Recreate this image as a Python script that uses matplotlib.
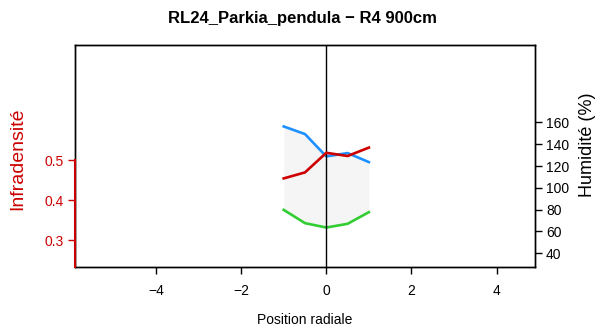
import matplotlib
matplotlib.use("Agg")
import matplotlib.pyplot as plt

plt.rcParams['font.family'] = ['Liberation Sans', 'DejaVu Sans']

positions = [-1.0, -0.5, 0.0, 0.5, 1.0]
infradensite = [0.454, 0.469, 0.518, 0.510, 0.531]
humidite_max = [156.3, 149.3, 128.8, 131.9, 123.6]
humidite_min = [79.8, 67.6, 63.6, 67.0, 77.7]
x_ticks = [-4, -2, 0, 2, 4]
left_ticks = [0.3, 0.4, 0.5]
right_ticks = [40, 60, 80, 100, 120, 140, 160]

W, H = 605, 336
fig = plt.figure(figsize=(W/100, H/100), dpi=100)
L, R, T, B = 75, 535, 45, 267
ax = fig.add_axes([L/W, 1-B/H, (R-L)/W, (B-T)/H])
ax.set_xlim(-5.9, 4.9)
ax.set_ylim(0.2325, 0.7875)
ax2 = ax.twinx()
ax2.set_ylim(27.4, 231)

red = '#cc0000'
ax2.fill_between(positions, humidite_min, humidite_max, color='#f5f5f5', lw=0, zorder=1)
ax2.plot(positions, humidite_max, color='#1e90ff', lw=1.9, zorder=2)
ax2.plot(positions, humidite_min, color='#32cd32', lw=1.9, zorder=2)
ax.axvline(0, color='black', lw=1)
ax.set_zorder(ax2.get_zorder()+1)
ax.patch.set_visible(False)
ax.plot(positions, infradensite, color=red, lw=1.9, zorder=3)

for a in (ax, ax2):
    for s in a.spines.values():
        s.set_color('black'); s.set_linewidth(1)

ax.set_xticks(x_ticks)
ax.set_xticklabels([str(t).replace('-', '\u2212') for t in x_ticks])
ax.tick_params(axis='x', direction='out', length=5, width=1, labelsize=10, pad=7)
ax.set_yticks(left_ticks)
ax.set_yticklabels([f"{t:.1f}" for t in left_ticks])
ax.tick_params(axis='y', direction='out', length=5, width=1, labelsize=10, colors=red, labelcolor=red, pad=3)
ax.plot([0, 0], [0.2325, 0.5], color=red, lw=1.5, transform=ax.get_yaxis_transform(), clip_on=False, zorder=5)

ax2.set_yticks(right_ticks)
ax2.tick_params(axis='y', direction='out', length=5, width=1, labelsize=10, pad=3)

ax.set_xlabel('Position radiale', fontsize=10, labelpad=11)
fig.text(17.5/W, 1-158.5/H, 'Infradensité', rotation=90, ha='center', va='center', fontsize=14, color=red)
fig.text(588/W, 1-145/H, 'Humidité (%)', rotation=90, ha='center', va='center', fontsize=13, color='black')
fig.text(0.5, 1-18/H, 'RL24_Parkia_pendula \u2212 R4 900cm', ha='center', va='center', fontsize=12, fontweight='bold')

fig.savefig('out.png', dpi=100)
